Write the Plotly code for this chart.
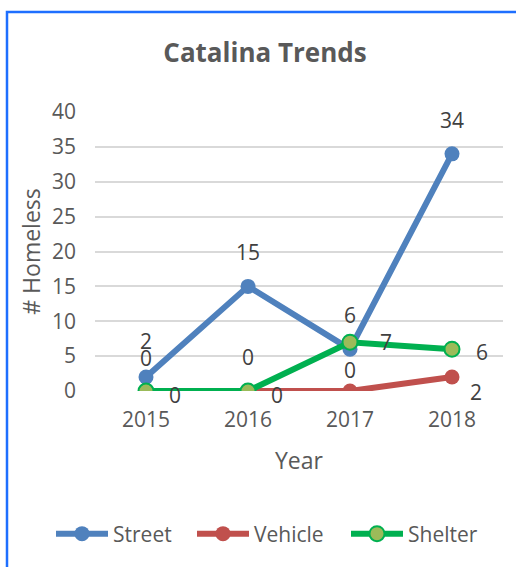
import plotly.graph_objects as go

years = ["2015", "2016", "2017", "2018"]
street = [2, 15, 6, 34]
vehicle = [0, 0, 0, 2]
shelter = [0, 0, 7, 6]

# label offsets (px) per series point: (xshift, yshift)
street_off = [(0, 36), (0, 34), (0, 34), (0, 34)]
vehicle_off = [(29, -4), (29, -4), (0, 21), (24, -15)]
shelter_off = [(0, 33), (0, 34), (36, 0), (30, -3)]

TXT = "#595959"
FONT = "Open Sans"

fig = go.Figure()
fig.add_trace(go.Scatter(x=years, y=street, name="Street", mode="lines+markers",
                         line=dict(color="#4F81BD", width=6), legend="legend",
                         showlegend=True,
                         marker=dict(color="#4F81BD", size=15)))
fig.add_trace(go.Scatter(x=years, y=vehicle, name="Vehicle", mode="lines+markers",
                         line=dict(color="#C0504D", width=6), legend="legend2",
                         showlegend=True,
                         marker=dict(color="#C0504D", size=15)))
fig.add_trace(go.Scatter(x=years, y=shelter, name="Shelter", mode="lines+markers",
                         line=dict(color="#00B050", width=6), legend="legend3",
                         showlegend=True,
                         marker=dict(color="#9BBB59", size=15,
                                     line=dict(color="#00B050", width=2))))

anns = []
for vals, offs in [(street, street_off), (vehicle, vehicle_off), (shelter, shelter_off)]:
    for i, (v, (dx, dy)) in enumerate(zip(vals, offs)):
        anns.append(dict(x=i, y=v, xref="x", yref="y", text=str(v), showarrow=False,
                         xshift=dx, yshift=dy,
                         font=dict(family=FONT, size=21, color="#404040")))

L, T, R, B = 95, 112, 13, 176
W, H = 516, 567
pw, ph = W - L - R, H - T - B

def px(x):
    return (x - L) / pw

def py(y):
    return (H - B - y) / ph

def leg(xpx):
    return dict(orientation="h", xref="container", yref="container",
                x=xpx / W, xanchor="left", y=1 - 534 / H, yanchor="middle",
                font=dict(size=21, color=TXT), itemwidth=52, bgcolor="rgba(0,0,0,0)")

fig.update_layout(
    width=W, height=H, showlegend=True,
    margin=dict(l=L, r=R, t=T, b=B, autoexpand=False),
    paper_bgcolor="white", plot_bgcolor="white",
    font=dict(family=FONT, color=TXT, size=20),
    title=dict(text="<b>Catalina Trends</b>", x=265 / W, xanchor="center",
               y=1 - 53 / H, yanchor="middle",
               font=dict(family=FONT, size=26, color=TXT)),
    xaxis=dict(type="category", range=[-0.5, 3.5], showgrid=False, zeroline=False,
               showline=False, ticks="", tickfont=dict(size=21, color=TXT),
               ticklabelstandoff=14, automargin=False,
               title=dict(text="Year", font=dict(size=23, color=TXT), standoff=20)),
    yaxis=dict(range=[0, 40], dtick=5, showgrid=True, gridcolor="#D9D9D9", gridwidth=1.5,
               zeroline=False, showline=False, ticks="", tickfont=dict(size=21, color=TXT),
               ticklabelstandoff=18, automargin=False,
               title=dict(text="# Homeless", font=dict(size=23, color=TXT), standoff=4)),
    legend=leg(51),
    legend2=leg(192),
    legend3=leg(346),
    annotations=anns,
    shapes=[dict(type="rect", xref="paper", yref="paper",
                 x0=px(7), x1=px(530), y0=py(580), y1=py(12),
                 line=dict(color="#1E6FFF", width=2.5), layer="above")],
)

fig.write_html("out.html", config={"displayModeBar": False},
               post_script="document.body.style.margin='0';")
